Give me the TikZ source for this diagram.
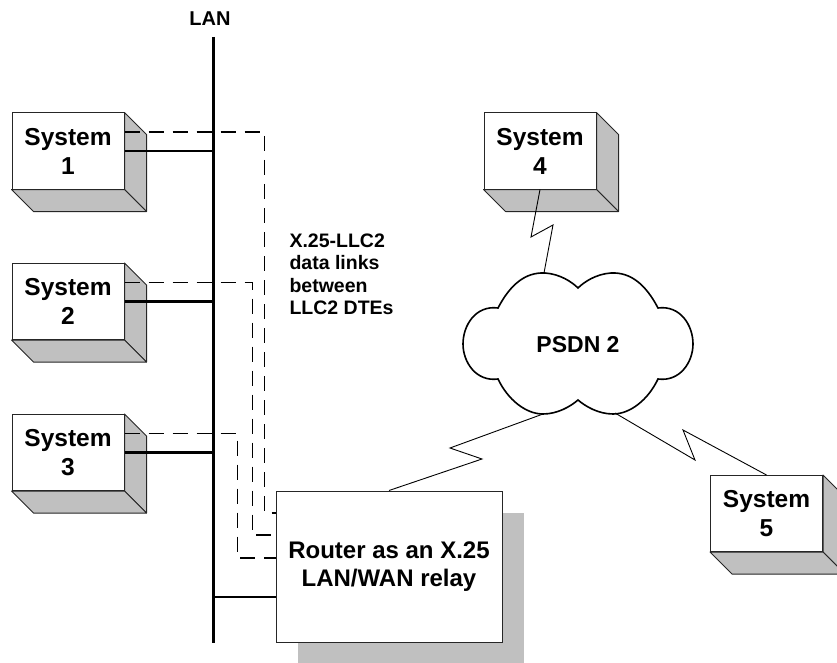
\documentclass[tikz,border=0pt]{standalone}
\usepackage{fontspec}
\setmainfont{Liberation Sans}
\usetikzlibrary{calc,shadows}
\definecolor{boxgray}{HTML}{C0C0C0}

\begin{document}
\begin{tikzpicture}[
    x=1pt, y=-1pt,
    font=\bfseries\fontsize{23}{28}\selectfont,
    sysbox/.style={draw=black!85, fill=white, line width=1pt, minimum width=112pt, minimum height=76pt, align=center, inner sep=0pt, font=\bfseries\fontsize{24.5}{29}\selectfont},
    face/.style={draw=black!85, fill=boxgray, line width=1pt, line join=round},
    relay/.style={draw=black!85, fill=white, line width=1pt, minimum width=226pt, minimum height=151pt, align=center, font=\bfseries\fontsize{24}{28}\selectfont, drop shadow={shadow xshift=22pt, shadow yshift=-22pt, fill=boxgray, opacity=1}},
    lanbus/.style={line width=3pt},
    tap/.style={line width=2.2pt},
    llc/.style={line width=1.4pt, dash pattern=on 15pt off 9pt},
    radio/.style={line width=0.9pt, line join=miter},
    puff/.style={line width=1.6pt}
]
\useasboundingbox (0,0) rectangle (837,663);

% LAN segment
\draw[lanbus] (213,37) coordinate (lantop) -- (213,643) coordinate (lanbot);
\node[font=\bfseries\fontsize{20}{22}\selectfont] (lan) at (210,19) {LAN};

% end systems
\node[sysbox] (sys1) at (68,151) {System\\1};
\node[sysbox] (sys2) at (68,301.5) {System\\2};
\node[sysbox] (sys3) at (68,452.5) {System\\3};
\node[sysbox] (sys4) at (540,151) {System\\4};
\node[sysbox] (sys5) at (766.5,513.5) {System\\5};
\foreach \s in {sys1,sys2,sys3,sys4,sys5} {
  \draw[face] (\s.north east) -- ($(\s.north east)+(22,22)$) -- ($(\s.south east)+(22,22)$) -- (\s.south east) -- cycle;
  \draw[face] (\s.south west) -- ($(\s.south west)+(22,22)$) -- ($(\s.south east)+(22,22)$) -- (\s.south east) -- cycle;
}

% relay
\node[relay] (router) at (389,566.5) {Router as an X.25\\LAN/WAN relay};

% LAN taps
\foreach \s in {sys1,sys2,sys3}
  \draw[tap] (\s.east) -- (\s.east -| lantop);
\coordinate (rtap) at ([yshift=-30.5pt]router.west);
\draw[tap] (rtap -| lantop) -- (rtap);

% LLC2 links
\draw[llc] ([yshift=19pt]sys1.east) -| ([xshift=-11pt,yshift=53.5pt]router.west) -- ([yshift=53.5pt]router.west);
\draw[llc] ([yshift=19pt]sys2.east) -| ([xshift=-23pt,yshift=31.5pt]router.west) -- ([yshift=31.5pt]router.west);
\draw[llc] ([yshift=19pt]sys3.east) -| ([xshift=-38pt,yshift=8.5pt]router.west) -- ([yshift=8.5pt]router.west);
\node[anchor=west, align=left, font=\bfseries\fontsize{19.5}{22.5}\selectfont] (note) at (286,274.5) {X.25-LLC2\\data links\\between\\LLC2 DTEs};

% PSDN cloud
\draw[puff] (498,308) .. controls (510,285) and (525,272) .. (545,273)
  .. controls (560,274) and (572,282) .. (578,288)
  .. controls (584,282) and (596,274) .. (611,273)
  .. controls (631,272) and (646,285) .. (658,308)
  .. controls (680,305) and (693,325) .. (693,344)
  .. controls (693,362) and (680,382) .. (658,379)
  .. controls (648,400) and (630,414) .. (613,414)
  .. controls (598,414) and (585,406) .. (578,400)
  .. controls (571,406) and (558,414) .. (543,414)
  .. controls (526,414) and (508,400) .. (498,379)
  .. controls (476,382) and (463,362) .. (463,344)
  .. controls (463,325) and (476,305) .. (498,308) -- cycle;
\node (psdn) at (578,345) {PSDN 2};
\coordinate (cloudN) at (544,273);
\coordinate (cloudS) at (543,414);
\coordinate (cloudSE) at (615,413);

% WAN links
\draw[radio] (sys4.south) -- (531,237) -- (553,225) -- (cloudN);
\draw[radio] (router.north) -- (482,459) -- (450,448) -- (cloudS);
\draw[radio] (cloudSE) -- (695,460) -- (683,430) -- (sys5.north);
\end{tikzpicture}
\end{document}
